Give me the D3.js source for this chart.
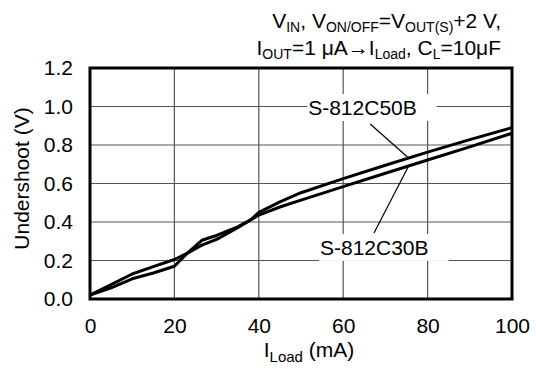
<!DOCTYPE html>
<html>
<head>
<meta charset="utf-8">
<script src="https://cdn.jsdelivr.net/npm/d3@7"></script>
<style>
  html, body { margin: 0; padding: 0; background: #fff; }
  svg { display: block; font-family: "Liberation Sans", Arial, sans-serif; }
</style>
</head>
<body>
<svg id="chart" width="536" height="369"></svg>
<script>
// ---- data ----
const loadCurrent50 = [0, 5, 10, 15, 20, 23, 26.5, 30, 35, 38, 40, 45, 50, 60, 70, 80, 90, 100];
const undershoot50  = [0.02, 0.075, 0.13, 0.168, 0.205, 0.237, 0.28, 0.31, 0.37, 0.41, 0.45, 0.505, 0.552, 0.625, 0.695, 0.763, 0.828, 0.89];
const loadCurrent30 = [0, 5, 10, 15, 20, 23, 26.5, 30, 35, 38, 40, 45, 50, 60, 70, 80, 90, 100];
const undershoot30  = [0.02, 0.058, 0.105, 0.135, 0.17, 0.237, 0.305, 0.33, 0.375, 0.41, 0.436, 0.478, 0.514, 0.584, 0.653, 0.722, 0.79, 0.861];
const xTicks = [0, 20, 40, 60, 80, 100];
const yTicks = [0.0, 0.2, 0.4, 0.6, 0.8, 1.0, 1.2];
const seriesNames = ["S-812C50B", "S-812C30B"];
// label anchor (data units) and leader-line start, leader target x
const labelPos = [[51.7, 0.956], [54.5, 0.229]];
const leaderStart = [[66.4, 0.909], [67.3, 0.343]];
const leaderTargetX = 75.5;

// ---- layout ----
const svg = d3.select("#chart");
const margin = { left: 90, right: 24, top: 68, bottom: 70 };
const W = 536, H = 369;
const x = d3.scaleLinear().domain([0, 100]).range([margin.left, W - margin.right]);
const y = d3.scaleLinear().domain([0, 1.2]).range([H - margin.bottom, margin.top]);

// grid
const grid = svg.append("g");
grid.selectAll("line.v").data(xTicks.slice(1, -1)).enter().append("line")
  .attr("x1", d => x(d)).attr("x2", d => x(d))
  .attr("y1", y(0)).attr("y2", y(1.2))
  .attr("stroke", "#555").attr("stroke-width", 1.2);
grid.selectAll("line.h").data(yTicks.slice(1, -1)).enter().append("line")
  .attr("x1", x(0)).attr("x2", x(100))
  .attr("y1", d => y(d)).attr("y2", d => y(d))
  .attr("stroke", "#555").attr("stroke-width", 1.2);

// axes (labels only)
const yAxis = d3.axisLeft(y).tickValues(yTicks).tickFormat(d3.format(".1f")).tickSize(0).tickPadding(17);
const gy = svg.append("g").attr("transform", `translate(${x(0)},0)`).call(yAxis);
gy.select(".domain").remove();
gy.selectAll("text").attr("font-size", 21).attr("fill", "#000")
  .attr("font-family", "Liberation Sans, Arial, sans-serif");

const xAxis = d3.axisBottom(x).tickValues(xTicks).tickFormat(d3.format("d")).tickSize(0).tickPadding(19);
const gx = svg.append("g").attr("transform", `translate(0,${y(0)})`).call(xAxis);
gx.select(".domain").remove();
gx.selectAll("text").attr("font-size", 21).attr("fill", "#000")
  .attr("font-family", "Liberation Sans, Arial, sans-serif");

// curves
const series = [
  { name: seriesNames[0], xs: loadCurrent50, ys: undershoot50 },
  { name: seriesNames[1], xs: loadCurrent30, ys: undershoot30 }
];
const line = d3.line().x(d => x(d[0])).y(d => y(d[1]));
series.forEach(s => {
  svg.append("path")
    .datum(s.xs.map((v, i) => [v, s.ys[i]]))
    .attr("d", line)
    .attr("fill", "none")
    .attr("stroke", "#000")
    .attr("stroke-width", 3)
    .attr("stroke-linejoin", "round");
});

// frame
svg.append("rect")
  .attr("x", x(0)).attr("y", y(1.2))
  .attr("width", x(100) - x(0)).attr("height", y(0) - y(1.2))
  .attr("fill", "none").attr("stroke", "#000").attr("stroke-width", 3);

// labels with leader lines
function interp(xs, ys, xv) {
  for (let i = 1; i < xs.length; i++) {
    if (xv <= xs[i]) {
      const t = (xv - xs[i - 1]) / (xs[i] - xs[i - 1]);
      return ys[i - 1] + t * (ys[i] - ys[i - 1]);
    }
  }
  return ys[ys.length - 1];
}
series.forEach((s, i) => {
  const g = svg.append("g");
  const bg = g.append("rect").attr("fill", "#fff");
  const t = g.append("text")
    .attr("x", x(labelPos[i][0])).attr("y", y(labelPos[i][1]))
    .attr("font-size", 21).attr("fill", "#000")
    .text(s.name);
  const bb = t.node().getBBox();
  bg.attr("x", bb.x - 1).attr("y", bb.y - 2)
    .attr("width", bb.width + 21).attr("height", bb.height + 4);
  svg.append("line")
    .attr("x1", x(leaderStart[i][0])).attr("y1", y(leaderStart[i][1]))
    .attr("x2", x(leaderTargetX)).attr("y2", y(interp(s.xs, s.ys, leaderTargetX)))
    .attr("stroke", "#000").attr("stroke-width", 1.2);
});

// axis titles
svg.append("text")
  .attr("transform", `translate(29,${(y(0) + y(1.2)) / 2 - 5}) rotate(-90)`)
  .attr("text-anchor", "middle").attr("font-size", 21).attr("fill", "#000")
  .text("Undershoot (V)");

const xt = svg.append("text")
  .attr("x", 309).attr("y", 357)
  .attr("text-anchor", "middle").attr("font-size", 21).attr("fill", "#000");
xt.append("tspan").text("I");
xt.append("tspan").attr("font-size", 15).attr("dy", 5).text("Load");
xt.append("tspan").attr("dy", -5).text(" (mA)");

// conditions
const c1 = svg.append("text").attr("x", 501).attr("y", 28)
  .attr("text-anchor", "end").attr("font-size", 21).attr("fill", "#000");
c1.append("tspan").text("V");
c1.append("tspan").attr("font-size", 14).attr("dy", 4).text("IN");
c1.append("tspan").attr("dy", -4).text(", V");
c1.append("tspan").attr("font-size", 14).attr("dy", 4).text("ON/OFF");
c1.append("tspan").attr("dy", -4).text("=V");
c1.append("tspan").attr("font-size", 14).attr("dy", 4).text("OUT(S)");
c1.append("tspan").attr("dy", -4).text("+2 V,");

const c2 = svg.append("text").attr("x", 501).attr("y", 55)
  .attr("text-anchor", "end").attr("font-size", 21).attr("fill", "#000");
c2.append("tspan").text("I");
c2.append("tspan").attr("font-size", 14).attr("dy", 4).text("OUT");
c2.append("tspan").attr("dy", -4).text("=1 \u03bcA\u2192I");
c2.append("tspan").attr("font-size", 14).attr("dy", 4).text("Load");
c2.append("tspan").attr("dy", -4).text(", C");
c2.append("tspan").attr("font-size", 14).attr("dy", 4).text("L");
c2.append("tspan").attr("dy", -4).text("=10\u03bcF");
</script>
</body>
</html>
